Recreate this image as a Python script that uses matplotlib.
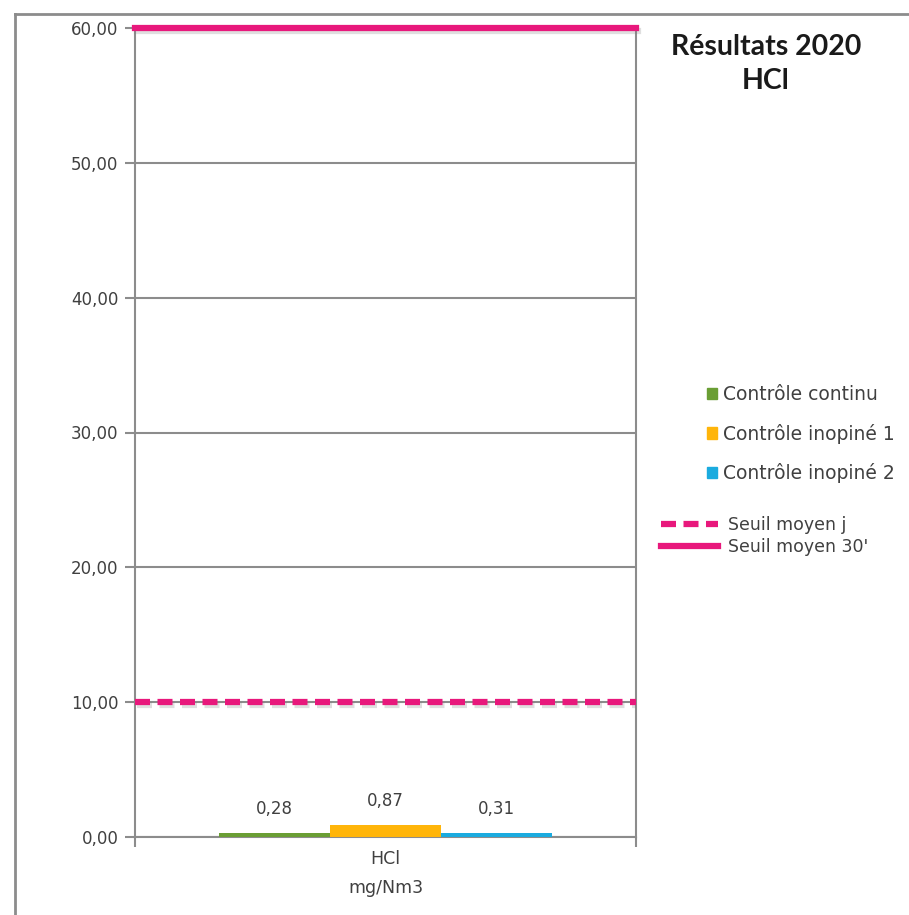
import matplotlib.pyplot as plt
import matplotlib.patheffects as pe
from matplotlib.lines import Line2D
from matplotlib.patches import Patch
import numpy as np

plt.rcParams["font.family"] = ["DejaVu Sans"]

series = ["Contrôle continu", "Contrôle inopiné 1", "Contrôle inopiné 2"]
values = [0.28, 0.87, 0.31]
value_labels = ["0,28", "0,87", "0,31"]
colors = ["#6A9E34", "#FFB50A", "#1AABDF"]
category = "HCl"
unit = "mg/Nm3"
seuil_j = 10.0
seuil_30 = 60.0
yticks = [0, 10, 20, 30, 40, 50, 60]

PINK = "#E8187C"
GRAY = "#8C8C8C"
TXT = "#404040"
DASH = (0, (2.4, 1.2))

fig = plt.figure(figsize=(9.09, 9.15), dpi=100)
ax = fig.add_axes([135 / 909, 1 - 837 / 915, (636 - 135) / 909, (837 - 28) / 915])

# outer frame (chart area border, cropped)
fig.add_artist(Line2D([15 / 909, 1], [1 - 14 / 915, 1 - 14 / 915], color=GRAY, lw=2))
fig.add_artist(Line2D([15 / 909, 15 / 909], [0, 1 - 14 / 915], color=GRAY, lw=2))

width = 0.222
offsets = (np.arange(len(values)) - 1) * width
for off, v, c, lab, name in zip(offsets, values, colors, value_labels, series):
    ax.bar(off, v, width=width, color=c, zorder=3, label=name)
    ax.text(off, v + 1.1, lab, ha="center", va="bottom", fontsize=12, color=TXT)

shadow = [pe.SimpleLineShadow(offset=(1.5, -2), alpha=0.25, shadow_color="gray"), pe.Normal()]
ax.axhline(seuil_j, color=PINK, lw=4.5, ls=DASH, zorder=4, path_effects=shadow)
ax.axhline(seuil_30, color=PINK, lw=4.5, zorder=4, path_effects=shadow, clip_on=False)

ax.set_xlim(-0.5, 0.5)
ax.set_ylim(0, 60)
ax.set_yticks(yticks)
ax.set_yticklabels([f"{t:.2f}".replace(".", ",") for t in yticks], fontsize=12, color=TXT)
ax.set_xticks([-0.5, 0.5])
ax.set_xticklabels(["", ""])
ax.tick_params(axis="y", length=7, width=1.5, color=GRAY, pad=5)
ax.tick_params(axis="x", length=7, width=1.5, color=GRAY)
ax.grid(axis="y", color=GRAY, lw=1.5, zorder=0)
ax.set_axisbelow(True)
for s in ["left", "right", "bottom"]:
    ax.spines[s].set_color(GRAY)
    ax.spines[s].set_linewidth(1.5)
ax.spines["top"].set_visible(False)

ax.text(0.5, -0.016, category + "\n" + unit, transform=ax.transAxes, ha="center", va="top",
        fontsize=12.5, color=TXT, linespacing=1.8)

fig.text(766 / 909, 1 - 64 / 915, "Résultats 2020\nHCl", ha="center", va="center",
         fontsize=20.5, fontweight="bold", color="#1a1a1a", linespacing=1.35,
         family=["Lato", "DejaVu Sans"])

handles1 = [Patch(color=c) for c in colors]
fig.legend(handles1, series, loc="center left", bbox_to_anchor=(690 / 909, 1 - 434 / 915),
           frameon=False, fontsize=13.5, handlelength=0.55, handleheight=0.55,
           handletextpad=0.3, labelspacing=1.05, labelcolor=TXT)
handles2 = [Line2D([], [], color=PINK, lw=4.5, ls=DASH),
            Line2D([], [], color=PINK, lw=4.5)]
fig.legend(handles2, ["Seuil moyen j", "Seuil moyen 30'"], loc="center left",
           bbox_to_anchor=(645 / 909, 1 - 536 / 915), frameon=False, fontsize=12.5,
           handlelength=3.3, handletextpad=0.6, labelspacing=0.2, labelcolor=TXT)

fig.savefig("out.png", dpi=100, facecolor="white")
